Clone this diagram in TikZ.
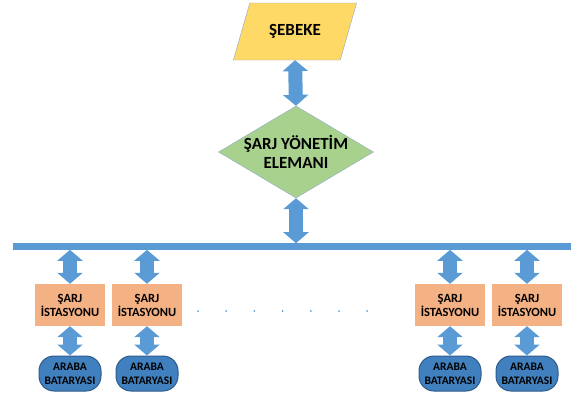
\documentclass[tikz,border=0pt]{standalone}
\usepackage{fontspec}
\setmainfont{Carlito}
\usetikzlibrary{arrows.meta, positioning, shapes.geometric}
\usepackage{xcolor}
\definecolor{arrblue}{HTML}{5B9BD5}
\definecolor{gridyellow}{HTML}{FFD966}
\definecolor{ctrlgreen}{HTML}{A9D18E}
\definecolor{stationorange}{HTML}{F4B183}
\definecolor{battblue}{HTML}{4080BE}
\definecolor{battedge}{HTML}{2E5A8A}
\definecolor{edgegray}{HTML}{8EA9C8}

\begin{document}
\begin{tikzpicture}[x=1pt, y=-1pt, font=\bfseries]
    \tikzstyle{link}=[draw=arrblue, line width=14pt, {Triangle[length=11pt,width=25pt]}-{Triangle[length=11pt,width=25pt]}]
    \tikzstyle{station}=[rectangle, fill=stationorange, minimum width=70pt, minimum height=42pt, inner sep=0pt, align=center, font=\bfseries\fontsize{12.5}{14}\selectfont]
    \tikzstyle{battery}=[rectangle, rounded corners=15pt, fill=battblue, draw=battedge, line width=1pt, minimum width=62pt, minimum height=35pt, inner sep=0pt, align=center, font=\bfseries\fontsize{11.5}{14}\selectfont]
    \tikzstyle{big}=[font=\bfseries\fontsize{17}{19.5}\selectfont]

    \useasboundingbox (0,0) rectangle (571,394);

    % Draw the grid and the controller
    \node[trapezium, trapezium left angle=63, trapezium right angle=117, trapezium stretches=true, minimum width=124pt, minimum height=57pt, fill=gridyellow, draw=edgegray, line width=0.4pt, big] (grid) at (295,31.5) {ŞEBEKE};
    \node[diamond, minimum width=155pt, minimum height=92pt, inner sep=0pt, fill=ctrlgreen, draw=edgegray, line width=0.4pt, label={[big, align=center]center:{ŞARJ YÖNETİM\\ELEMANI}}] (ctrl) at (296,152) {};

    % Draw the bus
    \coordinate (busL) at (13,246.5);
    \coordinate (busR) at (571,246.5);
    \draw[arrblue, line width=6.5pt] (busL) -- (busR);

    \draw[link] (grid.south) -- (ctrl.north);
    \draw[link, shorten >=3.3pt] (ctrl.south) -- (ctrl.south |- busL);

    % Draw the stations and batteries
    \foreach \i/\x in {1/70, 2/147, 3/450, 4/527}
    {
        \node[station] (S-\i) at (\x,305) {ŞARJ\\İSTASYONU};
        \node[battery] (B-\i) at (\x,373.5) {ARABA\\BATARYASI};
        \draw[link, shorten <=3.3pt] (S-\i.north |- busL) -- (S-\i.north);
        \draw[link] (S-\i) -- (B-\i);
    }

    \foreach \k in {0,...,6}
        \fill[arrblue] (198+28.2*\k,311) circle (1pt);
\end{tikzpicture}
\end{document}
